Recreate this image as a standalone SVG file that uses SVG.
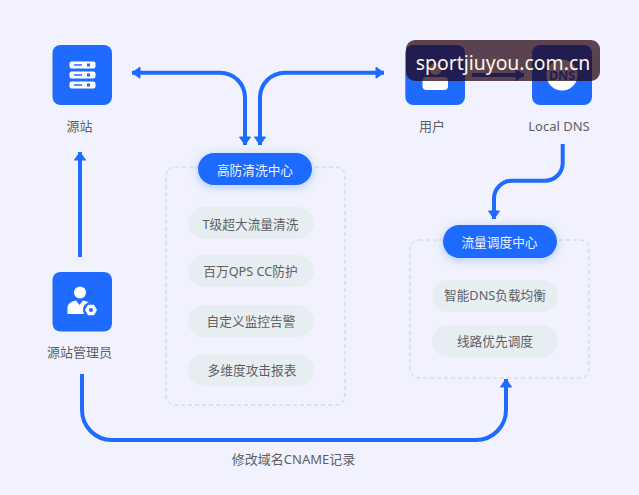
<svg xmlns="http://www.w3.org/2000/svg" width="639" height="495" viewBox="0 0 639 495">
<style>
text{font-family:"Noto Sans","Noto Sans CJK SC",sans-serif;font-size:13px;fill:#5c5f66;text-anchor:middle}
.sq{fill:#1f6bff}
.w{fill:#fff}
.ln{fill:none;stroke:#1f6bff;stroke-width:4;marker-end:url(#a)}
.two{marker-start:url(#a)}
.box{fill:none;stroke:#ccd2de;stroke-width:1;stroke-dasharray:4 3}
.pill{fill:#1f6bff;filter:url(#s)}
.pt{fill:#eef4ff;font-size:12.7px}
.chip{fill:#e7eef2}
.ct{font-size:12.7px}
</style>
<defs>
<marker id="a" markerUnits="userSpaceOnUse" markerWidth="16" markerHeight="16" refX="11" refY="8" orient="auto-start-reverse">
<path d="M3 2.5 L11 8 L3 13.5 Z" fill="#1f6bff" stroke="#1f6bff" stroke-width="1" stroke-linejoin="round"/>
</marker>
<filter id="s" x="-30%" y="-60%" width="160%" height="240%"><feDropShadow dx="0" dy="2" stdDeviation="5" flood-color="#1f6bff" flood-opacity="0.3"/></filter>
</defs>
<rect width="639" height="495" fill="#f1f2fd"/>
<g id="connectors">
<path class="ln two" d="M132 72.7 H220 A25 25 0 0 1 245 97.7 V145"/>
<path class="ln two" d="M260 145 V97.7 A25 25 0 0 1 285 72.7 H384"/>
<path class="ln" d="M80 257 V152"/>
<path class="ln" d="M472 75 H524"/>
<path class="ln" d="M562.7 144 V163 A17.7 17.7 0 0 1 545 180.7 H512 A18 18 0 0 0 494 198.7 V219"/>
<path class="ln" d="M82 374 V410 A30 30 0 0 0 112 440 H476 A30 30 0 0 0 506 410 V379"/>
<text x="293.5" y="464">修改域名CNAME记录</text>
</g>
<g id="origin">
<rect class="sq" x="52.5" y="45" width="59.5" height="60" rx="8"/>
<rect class="w" x="69.5" y="61.5" width="26" height="7" rx="2"/>
<rect class="w" x="69.5" y="71.5" width="26" height="7" rx="2"/>
<rect class="w" x="69.5" y="81.5" width="26" height="7" rx="2"/>
<path d="M74 65h8M74 75h8M74 85h8" stroke="#1f6bff" stroke-width="1.5" fill="none"/>
<path d="M87 65h3M87 75h3M87 85h3" stroke="#1f6bff" stroke-width="3" fill="none"/>
<text x="79.5" y="131">源站</text>
</g>
<g id="admin">
<rect class="sq" x="52.5" y="272" width="59.5" height="59.5" rx="8"/>
<circle class="w" cx="80" cy="292.5" r="6"/>
<path class="w" d="M67.5 314 V307 Q68 302 76 300.5 L79.5 305 L83 300.5 Q90 302 91 304 L84 314 Z"/>
<circle cx="91" cy="310" r="8" fill="#1f6bff"/>
<path class="w" d="M85 310 L88 304.8 H94 L97 310 L94 315.2 H88 Z"/>
<circle cx="91" cy="310" r="2" fill="#1f6bff"/>
<text x="79.5" y="357">源站管理员</text>
</g>
<g id="user">
<rect class="sq" x="405.3" y="45" width="59.7" height="60" rx="8"/>
<circle class="w" cx="435.5" cy="69" r="6"/>
<rect class="w" x="422.5" y="77" width="25.5" height="13" rx="4"/>
<text x="432" y="131">用户</text>
</g>
<g id="dns">
<rect class="sq" x="532" y="45" width="60" height="60" rx="8"/>
<circle class="w" cx="562" cy="75" r="15.5"/>
<text x="562" y="79.5" style="fill:#1f6bff;font-size:12.5px;font-weight:700">DNS</text>
<text x="559" y="131">Local DNS</text>
</g>
<g id="scrub">
<rect class="box" x="166" y="167" width="179" height="238" rx="9"/>
<rect class="pill" x="198" y="153" width="114" height="32" rx="16"/>
<text class="pt" x="255" y="175">高防清洗中心</text>
<rect class="chip" x="188" y="207" width="126" height="32" rx="16"/>
<text class="ct" x="250.5" y="228.5">T级超大流量清洗</text>
<rect class="chip" x="188" y="255" width="126" height="32" rx="16"/>
<text class="ct" x="250.5" y="276">百万QPS CC防护</text>
<rect class="chip" x="188" y="305" width="126" height="32" rx="16"/>
<text class="ct" x="251" y="326">自定义监控告警</text>
<rect class="chip" x="188" y="354" width="126" height="32" rx="16"/>
<text class="ct" x="252" y="375">多维度攻击报表</text>
</g>
<g id="dispatch">
<rect class="box" x="410" y="240" width="179" height="138" rx="9"/>
<rect class="pill" x="443" y="225" width="114" height="33" rx="16.5"/>
<text class="pt" x="499.5" y="247">流量调度中心</text>
<rect class="chip" x="432" y="280" width="126" height="32" rx="16"/>
<text class="ct" x="495" y="300">智能DNS负载均衡</text>
<rect class="chip" x="432" y="325" width="126" height="32" rx="16"/>
<text class="ct" x="495" y="346">线路优先调度</text>
</g>
<g id="watermark">
<rect x="406" y="40" width="194" height="41" rx="9" fill="#230010" fill-opacity="0.73"/>
<text x="503" y="70" style="font-size:19.4px;fill:#fff6e6">sportjiuyou.com.cn</text>
</g>
</svg>
